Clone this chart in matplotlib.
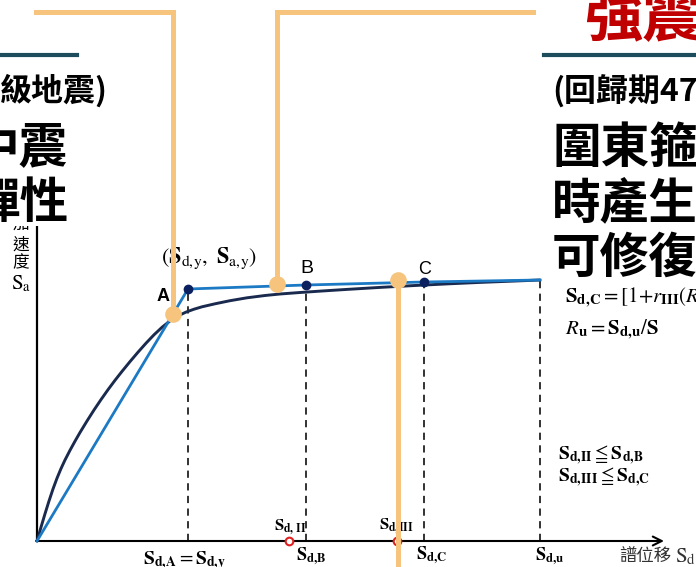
import matplotlib
matplotlib.use('Agg')
import matplotlib.pyplot as plt

plt.rcParams['font.family'] = ['Noto Sans CJK TC', 'DejaVu Sans']
plt.rcParams['mathtext.fontset'] = 'stix'

#============================================================================#
# capacity curve (spectral displacement Sd vs spectral acceleration Sa)
curve_sd = [0.0, 0.4, 0.8, 1.2, 1.6, 2.0, 2.4, 2.8, 3.3, 3.8, 4.3, 5.0, 5.7,
            6.4, 7.1, 7.8, 8.5, 9.3, 10.1, 10.9, 11.7, 12.5, 13.3, 14.1, 14.9,
            15.7, 16.5, 17.8, 19.3, 21.0, 22.8, 24.3, 26.3, 28.5, 31.0, 34.3,
            37.6, 41.0, 44.3, 47.6, 50.3]
curve_sa = [0.0, 0.138, 0.272, 0.400, 0.520, 0.628, 0.724, 0.810, 0.907,
            0.998, 1.085, 1.200, 1.310, 1.414, 1.513, 1.607, 1.696, 1.794,
            1.888, 1.978, 2.062, 2.137, 2.201, 2.251, 2.289, 2.318, 2.342,
            2.372, 2.403, 2.432, 2.455, 2.470, 2.485, 2.500, 2.516, 2.536,
            2.554, 2.571, 2.586, 2.599, 2.610]

# bilinear idealisation: origin, yield (A), B, C, ultimate
bilin_sd = [0.0, 15.1, 26.9, 38.7, 50.3]
bilin_sa = [0.0, 2.52, 2.56, 2.59, 2.61]
point_names = ['A', 'B', 'C']

# demand points on the Sd axis
sd_II = 25.2
sd_III = 36.0

# orange callout dots
callout_sd = [13.6, 24.0, 36.1]
callout_sa = [2.27, 2.57, 2.61]

ORANGE = '#F6C47D'
TEAL = '#1D4D5C'
BLUE = '#1C7AC4'
NAVY = '#1A2A4E'
DOT = '#0B215F'
RED = '#C00000'
#============================================================================#

fig = plt.figure(figsize=(6.96, 5.67), dpi=100)

# chart panel sits in the lower part of the slide
ax = fig.add_axes([0, 0, 1, 341 / 567])
ax.set_xlim(-3.7, 65.9)
ax.set_ylim(-0.26, 3.15)
ax.axis('off')

# axes lines
ax.plot([0, 0], [0, 3.4], color='black', lw=1.6, zorder=3)
ax.annotate('', xy=(62.7, 0), xytext=(-0.1, 0),
            arrowprops=dict(arrowstyle='->', lw=1.5, color='black',
                            mutation_scale=16, shrinkA=0, shrinkB=0),
            zorder=3)

# dashed drops from the bilinear points to the Sd axis
for sd, sa in zip(bilin_sd[1:], bilin_sa[1:]):
    ax.plot([sd, sd], [0, sa], color='#222222', lw=1.3, ls=(0, (4, 3)), zorder=2)

ax.plot(curve_sd, curve_sa, color=NAVY, lw=2.1, solid_joinstyle='round',
        solid_capstyle='round', zorder=4)
ax.plot(bilin_sd, bilin_sa, color=BLUE, lw=2.0, zorder=5)
ax.plot(bilin_sd[1:4], bilin_sa[1:4], 'o', color=DOT, ms=6, zorder=6)

# demand displacements
ax.plot([sd_II, sd_III], [0, 0], 'o', ms=5.5, mfc='white', mec='#E02020',
        mew=1.5, zorder=6)

# point labels
ax.text(bilin_sd[1] - 2.5, bilin_sa[1] - 0.07, point_names[0], fontsize=13,
        fontweight='bold', family='Liberation Sans', ha='center', va='center')
ax.text(bilin_sd[2] + 0.1, bilin_sa[2] + 0.17, point_names[1], fontsize=14,
        family='Liberation Sans', ha='center', va='center')
ax.text(bilin_sd[3] + 0.1, bilin_sa[3] + 0.13, point_names[2], fontsize=13,
        family='Liberation Sans', ha='center', va='center')
ax.text(17.2, 2.83, r'$(\mathbf{S}_{\mathrm{d,\!y}},\ \mathbf{S}_{\mathrm{a,\!y}})$',
        fontsize=16, ha='center', va='center')

# axis titles
for ch, y in zip(['加', '速', '度'], [3.17, 2.96, 2.78]):
    ax.text(-1.6, y, ch, fontsize=12, ha='center', va='center', clip_on=True)
ax.text(-1.6, 2.58, r'$\mathrm{S}_{\mathrm{a}}$', fontsize=15, ha='center',
        va='center')
ax.text(58.2, -0.15, '譜位移', fontsize=12.5, ha='left', va='center',
        color='#333333')
ax.text(63.8, -0.15, r'$\mathrm{S}_{\mathrm{d}}$', fontsize=15, ha='left',
        va='center', color='#333333')

# Sd tick labels
ax.text(10.6, -0.2, r'$\mathbf{S}_{\mathbf{d,\!A}} = \mathbf{S}_{\mathbf{d,\!y}}$',
        fontsize=14, ha='left', va='center')
ax.text(bilin_sd[2] + 0.5, -0.15, r'$\mathbf{S}_{\mathbf{d,\!B}}$', fontsize=13,
        ha='center', va='center')
ax.text(bilin_sd[3] + 0.8, -0.14, r'$\mathbf{S}_{\mathbf{d,\!C}}$', fontsize=13,
        ha='center', va='center')
ax.text(bilin_sd[4] + 1.0, -0.15, r'$\mathbf{S}_{\mathbf{d,\!u}}$', fontsize=13,
        ha='center', va='center')
ax.text(sd_II + 0.1, 0.14, r'$\mathbf{S}_{\mathbf{d,\,II}}$', fontsize=12,
        ha='center', va='center')
ax.text(sd_III - 0.1, 0.15, r'$\mathbf{S}_{\mathbf{d,\!III}}$', fontsize=12,
        ha='center', va='center')

# formulas
ax.text(52.8, 2.43, r'$\mathbf{S}_{\mathbf{d,\!C}} = [1{+}\mathit{r}_{\mathbf{III}}(\mathit{R}{-}$',
        fontsize=15, ha='left', va='center')
ax.text(52.8, 2.11, r'$\mathit{R}_{\mathbf{u}} = \mathbf{S}_{\mathbf{d,\!u}}/\mathbf{S}$',
        fontsize=15, ha='left', va='center')
ax.text(52.1, 0.86, r'$\mathbf{S}_{\mathbf{d,\!II}} \leqq \mathbf{S}_{\mathbf{d,\!B}}$',
        fontsize=14, ha='left', va='center')
ax.text(52.1, 0.64, r'$\mathbf{S}_{\mathbf{d,\!III}} \leqq \mathbf{S}_{\mathbf{d,\!C}}$',
        fontsize=14, ha='left', va='center')

#============================================================================#
# slide layer in pixel units
ov = fig.add_axes([0, 0, 1, 1])
ov.set_xlim(0, 696)
ov.set_ylim(567, 0)
ov.axis('off')

ov.plot([0, 77], [55, 55], color=TEAL, lw=3)
ov.plot([544, 696], [55, 55], color=TEAL, lw=3)

ov.text(584, 36, '強震', fontsize=42, fontweight='bold', color=RED,
        ha='left', va='baseline')
ov.text(108, 101, '級地震)', fontsize=23, fontweight='bold', ha='right',
        va='baseline')
ov.text(552, 101, '(回歸期475年)', fontsize=23, fontweight='bold', ha='left',
        va='baseline')
for txt, y in zip(['中震', '彈性'], [163, 218]):
    ov.text(-29, y, txt, fontsize=35, fontweight='bold', ha='left', va='baseline')
for txt, y in zip(['圍東箍筋', '時產生塑', '可修復的'], [163, 218, 273]):
    ov.text(552, y, txt, fontsize=35, fontweight='bold', ha='left', va='baseline')


def to_px(x, y):
    return ov.transData.inverted().transform(ax.transData.transform((x, y)))


p1, p2, p3 = [to_px(x, y) for x, y in zip(callout_sd, callout_sa)]
ov.plot([36, p1[0], p1[0]], [11.5, 11.5, p1[1]], color=ORANGE, lw=3.6,
        solid_joinstyle='miter')
ov.plot([533, p2[0], p2[0]], [11.5, 11.5, p2[1]], color=ORANGE, lw=3.6,
        solid_joinstyle='miter')
ov.plot([p3[0], p3[0]], [p3[1], 567], color=ORANGE, lw=3.6)
ov.plot([p1[0], p2[0], p3[0]], [p1[1], p2[1], p3[1]], 'o', color=ORANGE,
        ms=12, mec='none')

fig.savefig('out.png', dpi=100)
